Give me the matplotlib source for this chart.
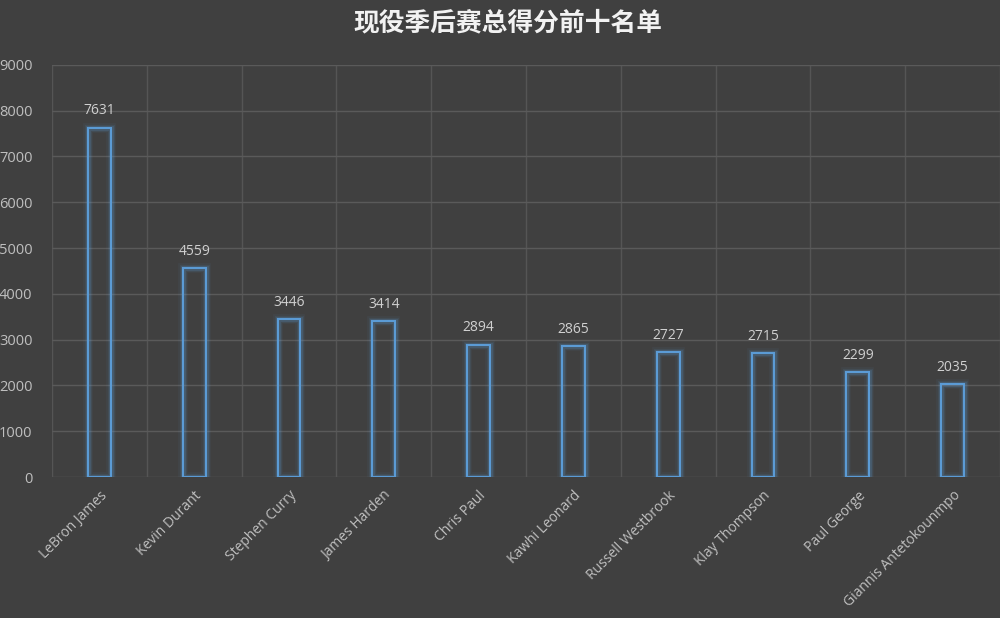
import numpy as np
import matplotlib.pyplot as plt

players = ['LeBron James', 'Kevin Durant', 'Stephen Curry', 'James Harden', 'Chris Paul',
           'Kawhi Leonard', 'Russell Westbrook', 'Klay Thompson', 'Paul George',
           'Giannis Antetokounmpo']
points = [7631, 4559, 3446, 3414, 2894, 2865, 2727, 2715, 2299, 2035]
title = '现役季后赛总得分前十名单'

plt.rcParams['font.family'] = ['Noto Sans CJK SC', 'DejaVu Sans']

bg = '#404040'
fig = plt.figure(figsize=(10, 6.18), dpi=100, facecolor=bg)
ax = fig.add_axes([0.052, 0.228, 0.948, 0.667], facecolor=bg)

x = np.arange(len(players))
w = 0.24
# glow
for lw, a in [(7, 0.06), (5, 0.1), (3.5, 0.18)]:
    ax.bar(x, points, width=w, facecolor='none', edgecolor='#5B9BD5', linewidth=lw, alpha=a)
ax.bar(x, points, width=w, facecolor='none', edgecolor='#5B9BD5', linewidth=1.5)

for xi, v in zip(x, points):
    ax.text(xi, v + 200, str(v), ha='center', va='bottom', color='#D0D0D0', fontsize=10,
            family=['Open Sans', 'DejaVu Sans'])

ax.set_xlim(-0.5, len(players) - 0.5)
ax.set_ylim(0, 9000)
ax.set_yticks(range(0, 9001, 1000))
ax.set_xticks(x)
ax.set_xticklabels(players, rotation=45, ha='right', rotation_mode='anchor',
                   color='#BFBFBF', fontsize=10, family=['Open Sans', 'DejaVu Sans'])
for lab in ax.get_yticklabels():
    lab.set_family(['Open Sans', 'DejaVu Sans'])
ax.tick_params(axis='y', colors='#BFBFBF', labelsize=10.5, length=0, pad=14)
ax.tick_params(axis='x', length=0, pad=8)

ax.set_xticks(np.arange(len(players) + 1) - 0.5, minor=True)
ax.grid(axis='y', which='major', color='#5A5A5A', linewidth=1)
ax.grid(axis='x', which='minor', color='#555555', linewidth=1)
ax.grid(axis='x', which='major', visible=False)
ax.tick_params(which='minor', length=0)
ax.set_axisbelow(True)
for s in ax.spines.values():
    s.set_visible(False)

fig.text(0.508, 0.963, title, ha='center', va='center', color='#F2F2F2', fontsize=18.5,
         fontweight='bold')

fig.savefig('out.png', facecolor=bg)
